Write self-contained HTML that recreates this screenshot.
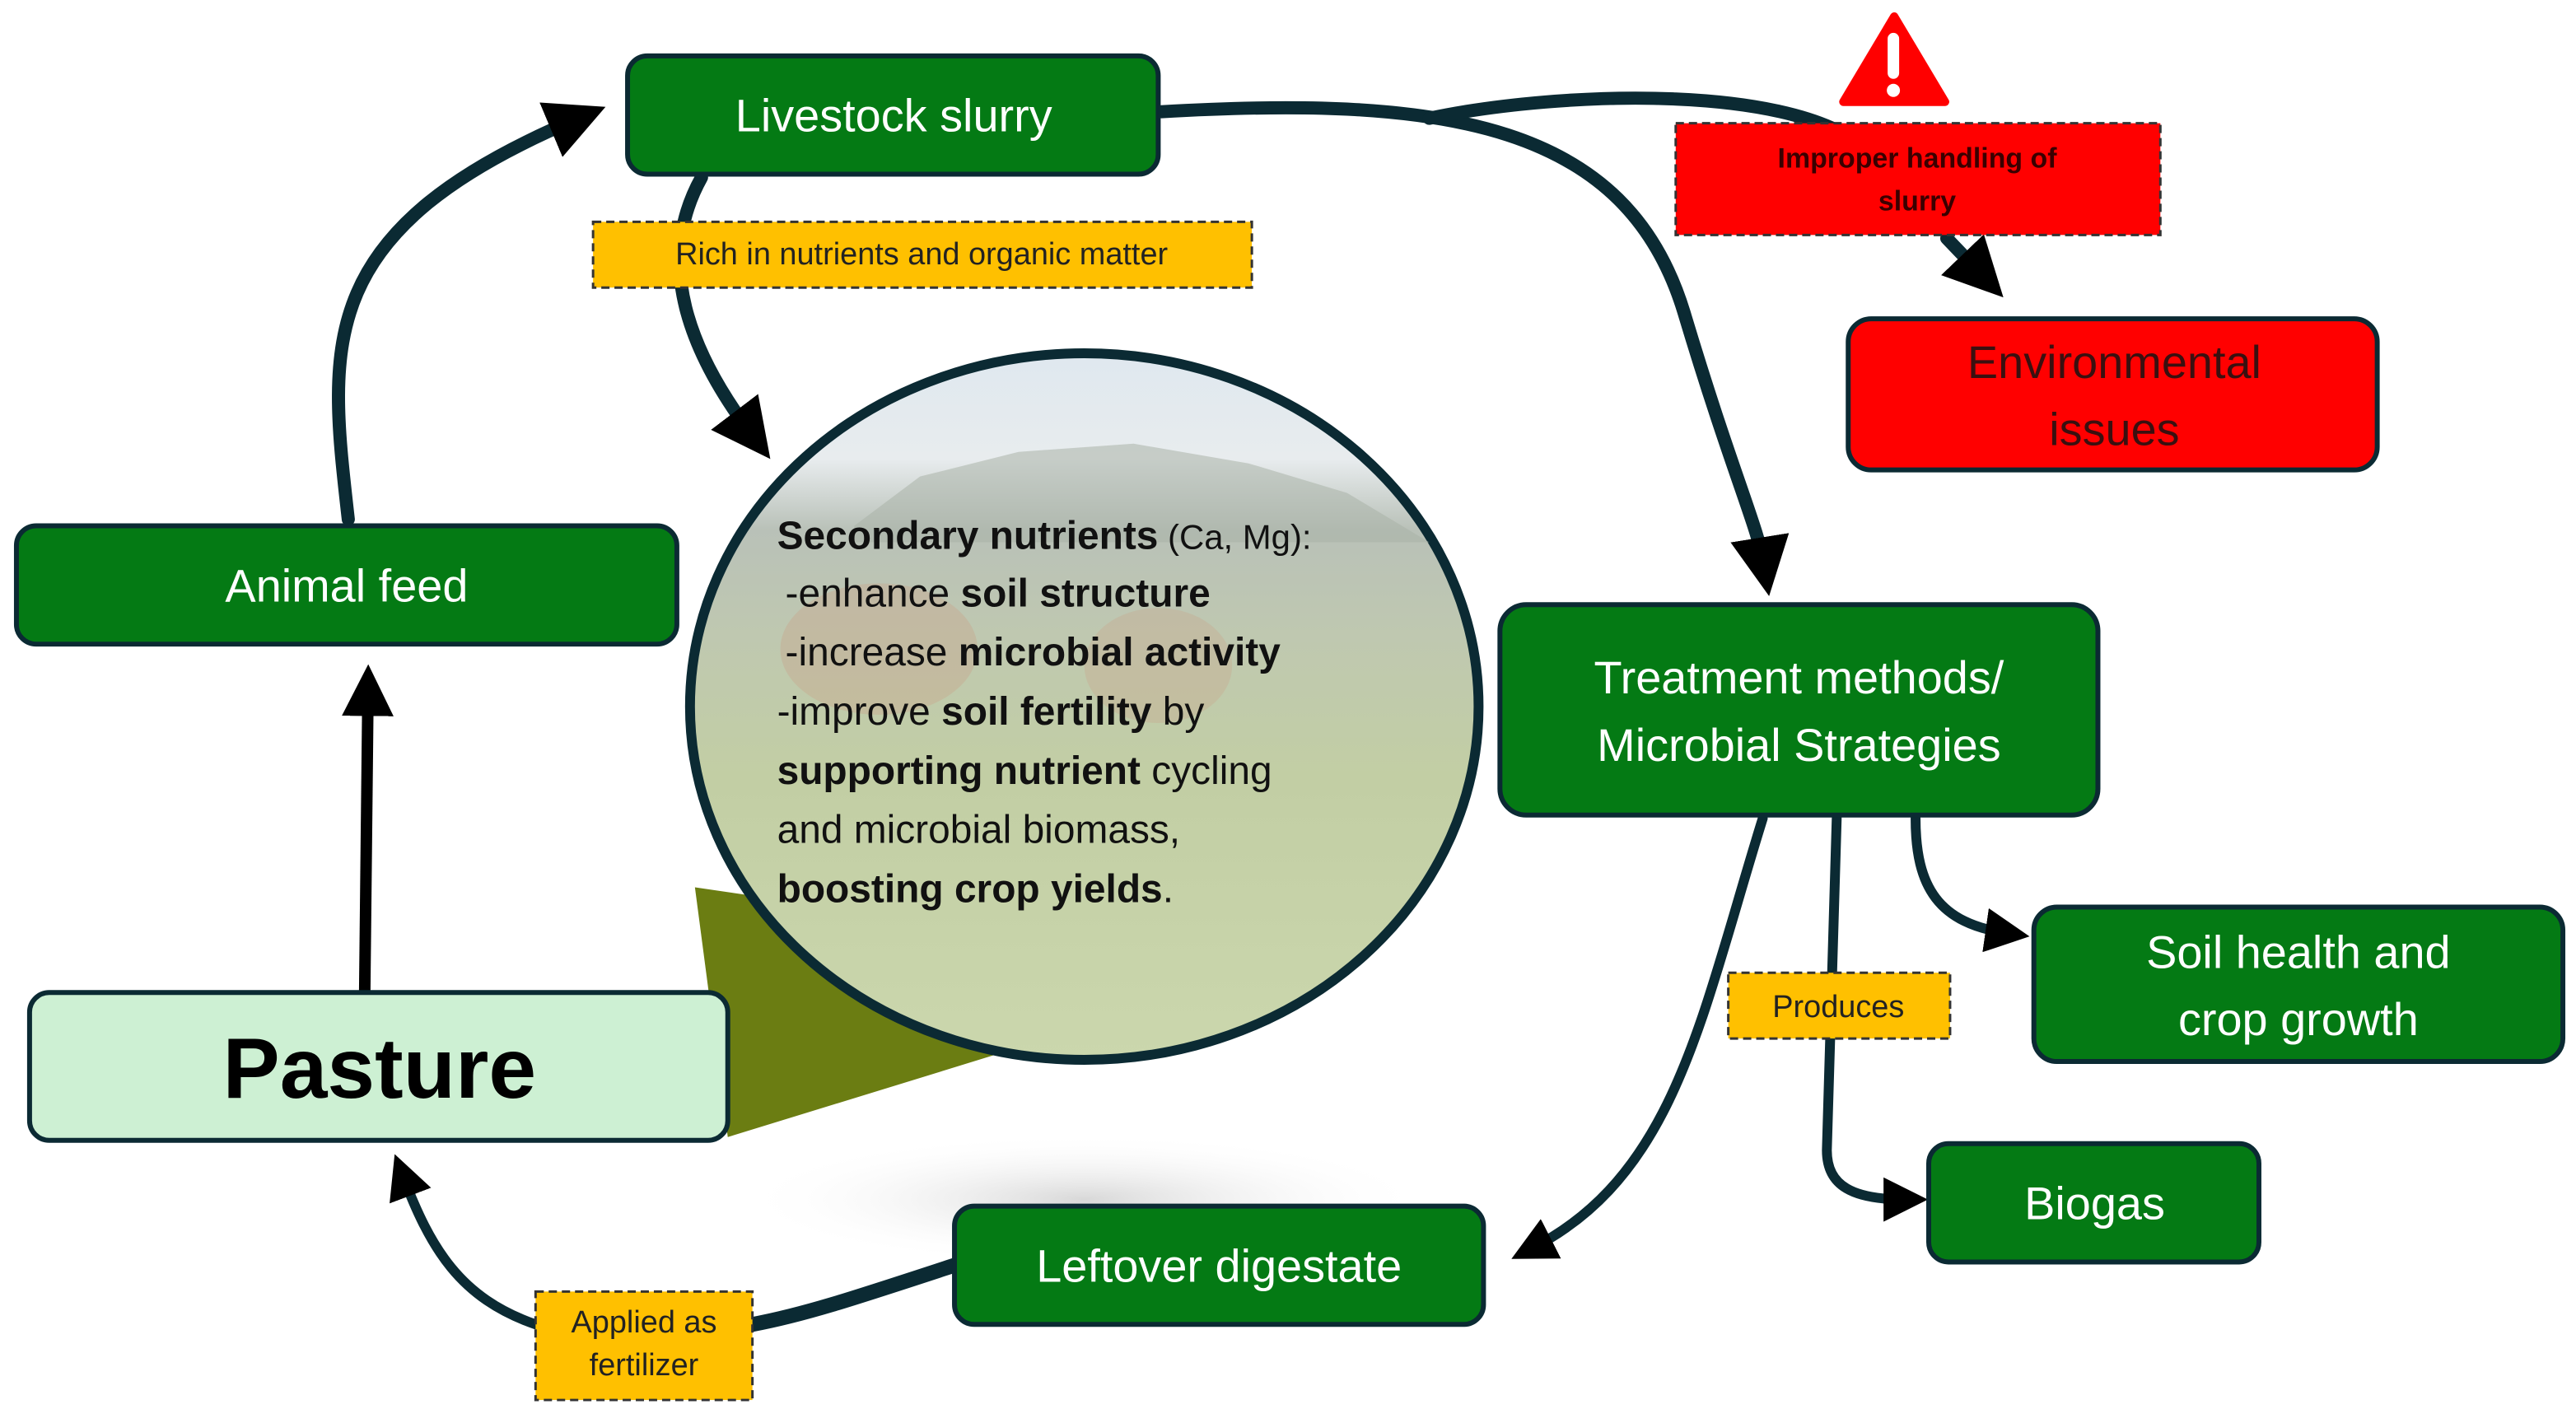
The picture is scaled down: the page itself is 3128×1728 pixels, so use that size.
<!DOCTYPE html>
<html><head><meta charset="utf-8"><style>
html,body{margin:0;padding:0;background:#fff}
svg{display:block}
text{font-family:"Liberation Sans",sans-serif}
</style></head><body>
<svg width="3128" height="1728" viewBox="0 0 1568 866" preserveAspectRatio="none" xmlns="http://www.w3.org/2000/svg">
<defs>
<radialGradient id="sh" cx="0.5" cy="0.5" r="0.5">
<stop offset="0" stop-color="#d8d8d8"/><stop offset="1" stop-color="#fff" stop-opacity="0"/>
</radialGradient>
<linearGradient id="img" x1="0" y1="0" x2="0" y2="1">
<stop offset="0" stop-color="#dfe8ef"/>
<stop offset="0.15" stop-color="#e8ecee"/>
<stop offset="0.25" stop-color="#b9c1b8"/>
<stop offset="0.4" stop-color="#bfc8b0"/>
<stop offset="0.6" stop-color="#c2cea4"/>
<stop offset="1" stop-color="#cbd7ad"/>
</linearGradient>
<marker id="ah" viewBox="0 0 10 10" refX="5" refY="5" markerWidth="4.5" markerHeight="4.5" orient="auto-start-reverse" markerUnits="strokeWidth">
<path d="M0,0 L10,5 L0,10 z" fill="#000"/>
</marker>
</defs>
<ellipse cx="660" cy="730" rx="210" ry="40" fill="url(#sh)"/>
<!-- olive wedge -->
<polygon points="423,540 443,692 612,640 560,560" fill="#6b7d12"/>
<!-- connectors -->
<g fill="none" stroke="#0b2a33" stroke-width="8" stroke-linecap="round">
<path d="M212,316 C200,210 190,140 352,72" marker-end="url(#ah)"/>
<path d="M427,108 C398,160 420,215 458,265" marker-end="url(#ah)"/>
<path d="M707,68 C880,58 990,75 1025,190 C1055,290 1070,320 1074,345" marker-end="url(#ah)"/>
<path d="M870,72 C950,55 1100,50 1140,95"/>
<path d="M1185,145 L1207,168" marker-end="url(#ah)"/>
<path d="M1073,498 C1035,620 1020,715 932,760" marker-end="url(#ah)" stroke-width="6"/>
<path d="M1118,498 L1112,700 C1112,722 1128,730 1160,730" marker-end="url(#ah)" stroke-width="6"/>
<path d="M1166,498 C1166,540 1180,562 1222,568" marker-end="url(#ah)" stroke-width="6"/>
<path d="M581,770 C520,790 490,800 458,806" stroke-width="9"/>
<path d="M326,806 C280,790 262,760 245,715" marker-end="url(#ah)" stroke-width="6"/>
</g>
<line x1="222" y1="604" x2="224" y2="420" stroke="#000" stroke-width="7" marker-end="url(#ah)"/>
<!-- circle -->
<ellipse cx="660" cy="430" rx="240" ry="215" fill="url(#img)" stroke="#0b2a33" stroke-width="6"/>
<path d="M520,320 L560,290 L620,275 L690,270 L760,282 L820,300 L870,330 L520,330 z" fill="#aab2a8" opacity="0.55"/>
<ellipse cx="535" cy="395" rx="60" ry="40" fill="#c9a58c" opacity="0.4"/>
<ellipse cx="705" cy="405" rx="45" ry="35" fill="#c9a58c" opacity="0.35"/>
<g font-size="24" fill="#111">
<text x="473" y="334"><tspan font-weight="bold">Secondary nutrients</tspan><tspan font-size="21"> (Ca, Mg):</tspan></text>
<text x="478" y="369">-enhance <tspan font-weight="bold">soil structure</tspan></text>
<text x="478" y="405">-increase <tspan font-weight="bold">microbial activity</tspan></text>
<text x="473" y="441">-improve <tspan font-weight="bold">soil fertility</tspan> by</text>
<text x="473" y="477"><tspan font-weight="bold">supporting nutrient</tspan> cycling</text>
<text x="473" y="513">and microbial biomass,</text>
<text x="473" y="549"><tspan font-weight="bold">boosting crop yields</tspan>.</text>
</g>
<!-- boxes -->
<g stroke="#0b2a33" stroke-width="3">
<rect x="382" y="34" width="323" height="72" rx="12" fill="#047a14"/>
<rect x="10" y="320" width="402" height="72" rx="12" fill="#047a14"/>
<rect x="18" y="604" width="425" height="90" rx="12" fill="#cdf0d3"/>
<rect x="913" y="368" width="364" height="128" rx="16" fill="#047a14"/>
<rect x="1125" y="194" width="322" height="92" rx="14" fill="#ff0000"/>
<rect x="1238" y="552" width="322" height="94" rx="14" fill="#047a14"/>
<rect x="1174" y="696" width="201" height="72" rx="12" fill="#047a14"/>
<rect x="581" y="734" width="322" height="72" rx="12" fill="#047a14"/>
</g>
<g stroke="#333" stroke-width="1.5" stroke-dasharray="5,3">
<rect x="361" y="135" width="401" height="40" fill="#ffc000"/>
<rect x="1020" y="75" width="295" height="68" fill="#ff0000"/>
<rect x="1052" y="592" width="135" height="40" fill="#ffc000"/>
<rect x="326" y="786" width="132" height="66" fill="#ffc000"/>
</g>
<!-- warning -->
<path d="M1153,10 L1184,62 L1122,62 z" fill="#ff0000" stroke="#ff0000" stroke-width="5" stroke-linejoin="round"/>
<rect x="1149" y="20" width="7" height="28" rx="3.5" fill="#fff"/>
<circle cx="1152.5" cy="55" r="4" fill="#fff"/>
<!-- texts -->
<g fill="#fff" font-size="28" text-anchor="middle">
<text x="544" y="80">Livestock slurry</text>
<text x="211" y="366">Animal feed</text>
<text x="1095" y="422">Treatment methods/</text>
<text x="1095" y="463">Microbial Strategies</text>
<text x="1399" y="589">Soil health and</text>
<text x="1399" y="630">crop growth</text>
<text x="1275" y="742">Biogas</text>
<text x="742" y="780">Leftover digestate</text>
</g>
<g fill="#3a1010" font-size="28" text-anchor="middle">
<text x="1287" y="230">Environmental</text>
<text x="1287" y="271">issues</text>
</g>
<text x="231" y="668" font-size="52" font-weight="bold" text-anchor="middle" fill="#000">Pasture</text>
<g fill="#222" text-anchor="middle">
<text x="561" y="161" font-size="19">Rich in nutrients and organic matter</text>
<text x="1167" y="102" font-size="17" font-weight="bold" fill="#3a0000">Improper handling of</text>
<text x="1167" y="128" font-size="17" font-weight="bold" fill="#3a0000">slurry</text>
<text x="1119" y="619" font-size="19">Produces</text>
<text x="392" y="811" font-size="19">Applied as</text>
<text x="392" y="837" font-size="19">fertilizer</text>
</g>
</svg>
</body></html>
